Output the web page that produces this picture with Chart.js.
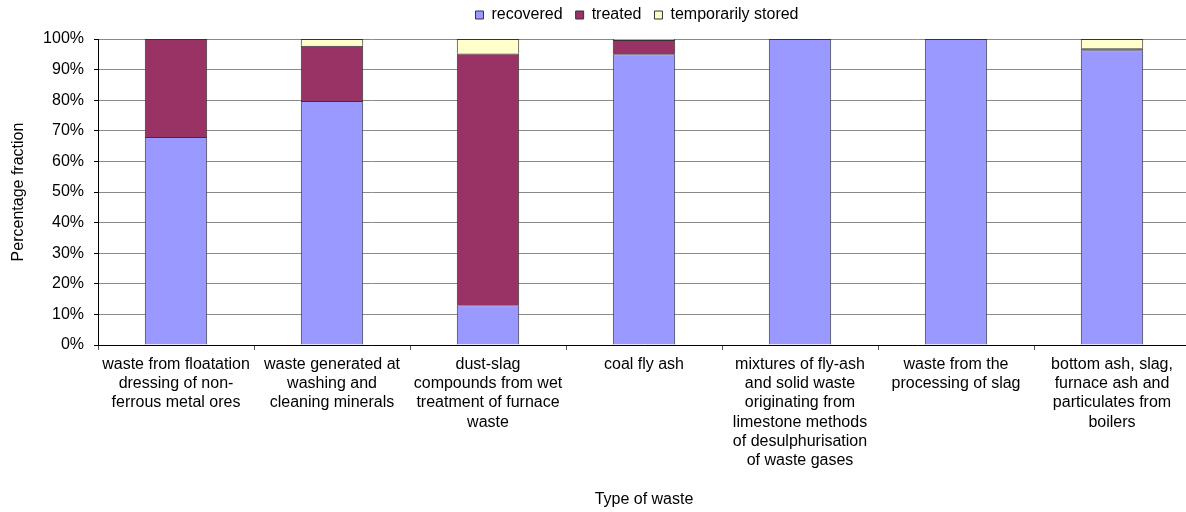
<!DOCTYPE html>
<html>
<head>
<meta charset="utf-8">
<script src="https://cdn.jsdelivr.net/npm/chart.js@4/dist/chart.umd.min.js"></script>
<style>
  html, body { margin: 0; padding: 0; background: #fff; overflow: hidden; }
  #wrap { width: 1200px; height: 512px; }
</style>
</head>
<body>
<div id="wrap"><canvas id="c" width="1200" height="512"></canvas></div>
<script>
// Waste categories (multi-line labels)
const categories = [
  ["waste from floatation", "dressing of non-", "ferrous metal ores"],
  ["waste generated at", "washing and", "cleaning minerals"],
  ["dust-slag", "compounds from wet", "treatment of furnace", "waste"],
  ["coal fly ash"],
  ["mixtures of fly-ash", "and solid waste", "originating from", "limestone methods", "of desulphurisation", "of waste gases"],
  ["waste from the", "processing of slag"],
  ["bottom ash, slag,", "furnace ash and", "particulates from", "boilers"]
];

// Share of each waste type by management route, in percent
const recovered = [68, 79.7, 13, 95, 100, 100, 96.3];
const treated   = [32, 18.1, 82.3, 4.7, 0, 0, 0.7];
const temporarilyStored = [0, 2.2, 4.7, 0.3, 0, 0, 3];

const seriesNames = ["recovered", "treated", "temporarily stored"];
const yTicks = [0, 10, 20, 30, 40, 50, 60, 70, 80, 90, 100];

const FONT = "'Liberation Sans', Arial, sans-serif";

// Nudge the legend box to sit above the middle of the plot
const legendNudge = {
  id: 'legendNudge',
  afterLayout(chart) {
    const lg = chart.legend;
    if (!lg) return;
    lg.left += 42; lg.right += 42;
    lg.top -= 6; lg.bottom -= 6;
  }
};

new Chart(document.getElementById('c'), {
  type: 'bar',
  data: {
    labels: categories,
    datasets: [
      { label: seriesNames[0], data: recovered, backgroundColor: '#9999FF', borderColor: '#333344', borderWidth: 1 },
      { label: seriesNames[1], data: treated, backgroundColor: '#993366', borderColor: '#333333', borderWidth: 1 },
      { label: seriesNames[2], data: temporarilyStored, backgroundColor: '#FFFFCC', borderColor: '#333333', borderWidth: 1 }
    ]
  },
  options: {
    responsive: false,
    animation: false,
    devicePixelRatio: 1,
    layout: { padding: { left: 0, right: 10, top: 0, bottom: 0 } },
    datasets: { bar: { categoryPercentage: 1, barPercentage: 0.4 } },
    plugins: {
      tooltip: { enabled: false },
      legend: {
        position: 'top',
        labels: {
          boxWidth: 8,
          boxHeight: 8,
          padding: 13,
          color: '#000',
          font: { family: FONT, size: 16 }
        }
      }
    },
    scales: {
      x: {
        stacked: true,
        afterFit(scale) { scale.height = 167; },
        grid: { drawOnChartArea: false, drawTicks: true, tickLength: 5, tickColor: '#555', offset: true },
        border: { color: '#000', width: 1 },
        ticks: {
          color: '#000',
          padding: 5,
          maxRotation: 0,
          autoSkip: false,
          font: { family: FONT, size: 16, lineHeight: 1.2 }
        },
        title: {
          display: true,
          text: 'Type of waste',
          color: '#000',
          padding: { top: 0, bottom: 3 },
          font: { family: FONT, size: 16, lineHeight: 1.2 }
        }
      },
      y: {
        stacked: true,
        min: 0,
        max: 100,
        afterFit(scale) { scale.width = 98; },
        afterBuildTicks(scale) { scale.ticks = yTicks.map(v => ({ value: v })); },
        grid: { color: '#8a8a8a', lineWidth: 1, tickLength: 4, tickColor: '#000' },
        border: { color: '#000', width: 1 },
        ticks: {
          color: '#000',
          padding: 10,
          callback: v => v + '%',
          font: { family: FONT, size: 16 }
        },
        title: {
          display: true,
          text: 'Percentage fraction',
          color: '#000',
          padding: { top: 9, bottom: 0 },
          font: { family: FONT, size: 16, lineHeight: 1.2 }
        }
      }
    }
  },
  plugins: [legendNudge]
});
</script>
</body>
</html>
